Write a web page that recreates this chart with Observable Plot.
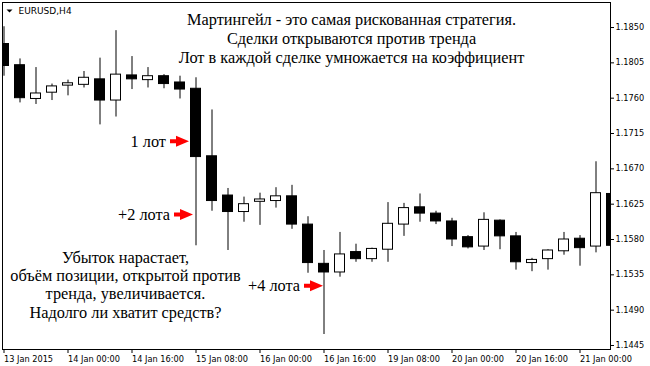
<!DOCTYPE html>
<html><head><meta charset="utf-8">
<script src="https://cdn.jsdelivr.net/npm/d3@7"></script>
<script src="https://cdn.jsdelivr.net/npm/@observablehq/plot@0.6"></script>
<style>html,body{margin:0;padding:0;background:#fff;} #chart svg{display:block}</style>
</head><body><div id="chart"></div>
<script>
// EURUSD H4 candles (bar index 0..38)
const opens  = [1.1829,1.1802,1.1759,1.1767,1.1776,1.1777,1.1784,1.1757,1.1789,1.1783,1.1788,1.1780,1.1772,1.1686,1.1636,1.1615,1.1628,1.1629,1.1635,1.1599,1.1549,1.1538,1.1564,1.1555,1.1567,1.1599,1.1621,1.1613,1.1603,1.1583,1.1571,1.1604,1.1584,1.1550,1.1555,1.1565,1.1581,1.1571,1.1638];
const highs  = [1.1851,1.1810,1.1799,1.1778,1.1783,1.1794,1.1811,1.1846,1.1813,1.1799,1.1790,1.1788,1.1786,1.1745,1.1645,1.1634,1.1639,1.1646,1.1649,1.1609,1.1566,1.1589,1.1574,1.1569,1.1627,1.1626,1.1638,1.1616,1.1607,1.1585,1.1614,1.1605,1.1589,1.1556,1.1567,1.1589,1.1585,1.1679,1.1640];
const lows   = [1.1788,1.1754,1.1752,1.1757,1.1763,1.1773,1.1726,1.1736,1.1771,1.1773,1.1772,1.1759,1.1572,1.1616,1.1566,1.1602,1.1598,1.1620,1.1593,1.1537,1.1459,1.1532,1.1551,1.1551,1.1551,1.1584,1.1602,1.1599,1.1571,1.1568,1.1566,1.1567,1.1541,1.1539,1.1541,1.1560,1.1546,1.1563,1.1570];
const closes = [1.1801,1.1760,1.1766,1.1775,1.1779,1.1786,1.1757,1.1790,1.1784,1.1788,1.1778,1.1771,1.1685,1.1629,1.1615,1.1625,1.1631,1.1635,1.1599,1.1550,1.1538,1.1561,1.1555,1.1568,1.1600,1.1620,1.1613,1.1603,1.1580,1.1570,1.1605,1.1584,1.1551,1.1554,1.1566,1.1580,1.1569,1.1639,1.1572];

const xTickBars   = [0,4,8,12,16,20,24,28,32,36];
const xTickLabels = ["13 Jan 2015","14 Jan 00:00","14 Jan 16:00","15 Jan 08:00","16 Jan 00:00","16 Jan 16:00","19 Jan 08:00","20 Jan 00:00","20 Jan 16:00","21 Jan 00:00"];
const yTicks = [1.1445,1.1490,1.1535,1.1580,1.1625,1.1670,1.1715,1.1760,1.1805,1.1850];

// annotations (anchored to bar index / price)
const arrowLabels = ["1 лот","+2 лота","+4 лота"];
const arrowBars   = [12,12,20];
const arrowPrices = [1.1705,1.1612,1.1521];

const headLines  = ["Мартингейл - это самая рискованная стратегия.","Сделки открываются против тренда","Лот в каждой сделке умножается на коэффициент"];
const headBar    = 22;
const headPrices = [1.18532,1.18290,1.18048];

const footLines  = ["Убыток нарастает,","объём позиции, открытой против","тренда, увеличивается.","Надолго ли хватит средств?"];
const footBar    = 8;
const footPrices = [1.15507,1.15271,1.15036,1.14800];

const candles = opens.map((o,i)=>({i, open:o, high:highs[i], low:lows[i], close:closes[i]}));
const up = candles.filter(d=>d.close>=d.open);
const down = candles.filter(d=>d.close<d.open);

const serif = "'Liberation Serif','Times New Roman',serif";
const arrowSymbol = {draw(ctx){ctx.moveTo(0,0);ctx.lineTo(-13,-5.5);ctx.lineTo(-13,-2);ctx.lineTo(-19,-2);ctx.lineTo(-19,2);ctx.lineTo(-13,2);ctx.lineTo(-13,5.5);ctx.closePath();}};
const triSymbol = {draw(ctx){ctx.moveTo(-3,-1.5);ctx.lineTo(3,-1.5);ctx.lineTo(0,1.5);ctx.closePath();}};
const arrowDx = [-7,-3,-1];
const fs = 16.3;

const marks = [
  Plot.ruleX(candles,{x:"i",y1:"low",y2:"high",stroke:"black",strokeWidth:1,clip:"frame"}),
  Plot.barY(down,{x:"i",y1:"open",y2:"close",fill:"black",stroke:"black",insetLeft:3,insetRight:3,clip:"frame"}),
  Plot.barY(up,{x:"i",y1:"open",y2:"close",fill:"white",stroke:"black",insetLeft:3,insetRight:3,clip:"frame"}),
  Plot.frame({stroke:"black"}),
  Plot.axisY({anchor:"right",ticks:yTicks,tickFormat:d3.format(".4f"),tickSize:3,tickPadding:2,label:null,fill:"black"}),
  Plot.axisX({ticks:xTickBars,tickFormat:d=>xTickLabels[xTickBars.indexOf(d)],tickSize:4,tickPadding:3,textAnchor:"start",label:null,fill:"black"}),
  Plot.dot([0],{frameAnchor:"top-left",symbol:triSymbol,r:3,fill:"black",dx:7,dy:8.5}),
  Plot.text(["EURUSD,H4"],{frameAnchor:"top-left",text:d=>d,dx:16,dy:8.7,textAnchor:"start",lineAnchor:"middle",fontSize:9,fill:"black"}),
  Plot.text(headLines,{x:()=>headBar,y:(d,k)=>headPrices[k],text:d=>d,dx:-4.5,textAnchor:"middle",lineAnchor:"bottom",fontFamily:serif,fontSize:fs,fill:"black"}),
  Plot.text(footLines,{x:()=>footBar,y:(d,k)=>footPrices[k],text:d=>d,dx:-6.5,textAnchor:"middle",lineAnchor:"bottom",fontFamily:serif,fontSize:fs,fill:"black"})
];
arrowLabels.forEach((t,k)=>{
  marks.push(Plot.dot([k],{x:()=>arrowBars[k],y:()=>arrowPrices[k],symbol:arrowSymbol,r:6,fill:"#ff0000",dx:arrowDx[k]}));
  marks.push(Plot.text([t],{x:()=>arrowBars[k],y:()=>arrowPrices[k],text:d=>d,dx:arrowDx[k]-23,textAnchor:"end",lineAnchor:"middle",fontFamily:serif,fontSize:fs,fill:"black"}));
});

const chart = Plot.plot({
  width:650, height:366,
  marginLeft:2, marginTop:2, marginRight:40, marginBottom:17,
  style:{fontFamily:"'DejaVu Sans',sans-serif",fontSize:"8.2px",color:"black",background:"white"},
  x:{type:"band",domain:d3.range(candles.length),range:[-4.5,619.5],padding:0,round:false},
  y:{domain:[1.14399,1.18806],range:[349,3]},
  marks
});
document.getElementById("chart").append(chart);
</script>
</body></html>
